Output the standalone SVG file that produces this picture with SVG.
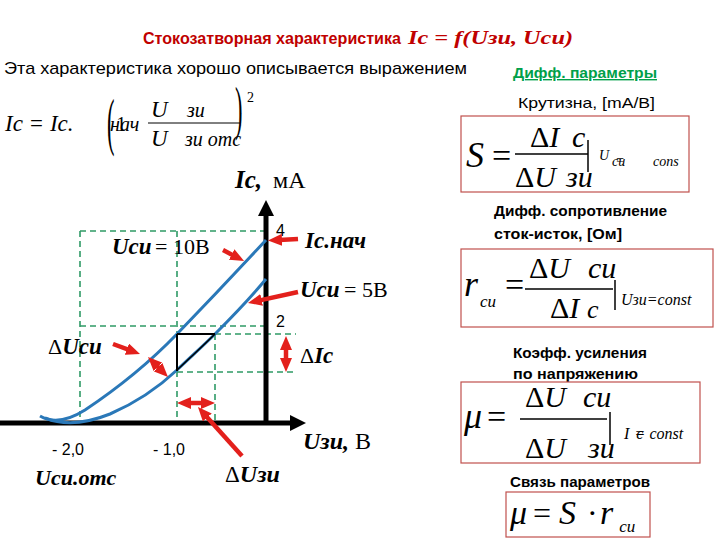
<svg xmlns="http://www.w3.org/2000/svg" width="720" height="540" viewBox="0 0 720 540">
<style>
.sans{font-family:"Liberation Sans",Arial,sans-serif;}
.serif{font-family:"Liberation Serif","Times New Roman",serif;}
.it{font-style:italic;}
.bi{font-style:italic;font-weight:bold;}
.b{font-weight:bold;}
.grid{stroke:#2f9a66;stroke-width:1.6;stroke-dasharray:6,4;fill:none;}
.curve{stroke:#2a78b8;stroke-width:3;fill:none;}
.red{stroke:#e3201c;stroke-width:4.5;fill:none;}
.box{fill:#fff;stroke:#c0504d;stroke-width:1.2;}
.rule{stroke:#000;stroke-width:1.5;}
</style>
<defs>
<marker id="ah" viewBox="0 0 14 12" markerWidth="14" markerHeight="12" refX="3" refY="6" orient="auto-start-reverse" markerUnits="userSpaceOnUse">
<path d="M0,0 L14,6 L0,12 z" fill="#e3201c"/>
</marker>
</defs>
<rect width="720" height="540" fill="#fff"/>

<g id="title">
<text x="143" y="44" class="sans b" font-size="17" fill="#c00000" textLength="258" lengthAdjust="spacingAndGlyphs">Стокозатворная характеристика</text>
<text x="408" y="44" class="serif bi" font-size="19" fill="#c00000" textLength="165" lengthAdjust="spacingAndGlyphs">Ic = f(Uзи, Ucи)</text>
</g>

<g id="intro">
<text x="4" y="74" class="sans" font-size="17" fill="#000" textLength="463" lengthAdjust="spacingAndGlyphs">Эта характеристика хорошо описывается выражением</text>
</g>

<g id="expression">
<text x="5" y="131" class="serif it" font-size="23">Ic = Ic.</text>
<text transform="translate(107,143) scale(0.75,2.1)" class="serif" font-size="30">(</text>
<text x="110" y="131" class="serif it" font-size="20">нач<tspan dx="-23" font-style="normal">1</tspan></text>
<text x="151" y="117" class="serif it" font-size="23">U</text>
<text x="187" y="117" class="serif it" font-size="20">зи</text>
<line x1="148" y1="123" x2="240" y2="123" stroke="#000" stroke-width="1"/>
<text x="151" y="146" class="serif it" font-size="23">U</text>
<text x="185" y="146" class="serif it" font-size="20">зи отс</text>
<text transform="translate(235,128) scale(0.75,2)" class="serif" font-size="30">)</text>
<text x="247" y="102" class="serif" font-size="14">2</text>
</g>

<g id="diff-header">
<text x="513" y="78" class="sans b" font-size="14" fill="#00a04a" text-decoration="underline" textLength="144" lengthAdjust="spacingAndGlyphs">Дифф. параметры</text>
</g>

<g id="steepness">
<text x="518" y="108" class="sans" font-size="15" textLength="137" lengthAdjust="spacingAndGlyphs">Крутизна, [mA/B]</text>
<rect x="461" y="116" width="228" height="76" class="box"/>
<text x="466" y="167" class="serif it" font-size="36">S</text>
<text x="492" y="167" class="serif" font-size="34">=</text>
<text x="530" y="147" class="serif" font-size="30">Δ<tspan class="it">I</tspan></text>
<text x="572" y="147" class="serif it" font-size="30">c</text>
<line x1="515" y1="154" x2="588" y2="154" class="rule"/>
<text x="515" y="187" class="serif" font-size="30">Δ<tspan class="it">U</tspan></text>
<text x="566" y="187" class="serif it" font-size="30">зи</text>
<line x1="588" y1="140" x2="588" y2="172" class="rule"/>
<text x="599" y="160" class="serif it" font-size="14">U</text>
<text x="612" y="166" class="serif it" font-size="14">си<tspan dx="-10" dy="-1">=</tspan></text>
<text x="653" y="166" class="serif it" font-size="14">cons</text>
</g>

<g id="resistance">
<text x="494" y="216" class="sans b" font-size="15" textLength="173" lengthAdjust="spacingAndGlyphs">Дифф. сопротивление</text>
<text x="494" y="239" class="sans b" font-size="15" textLength="128" lengthAdjust="spacingAndGlyphs">сток-исток, [Ом]</text>
<rect x="461" y="249" width="252" height="78" class="box"/>
<text x="464" y="296" class="serif it" font-size="36">r<tspan font-size="17" dx="2" dy="11">cи</tspan></text>
<text x="505" y="296" class="serif" font-size="34">=</text>
<text x="529" y="278" class="serif" font-size="30">Δ<tspan class="it">U</tspan></text>
<text x="588" y="278" class="serif it" font-size="30">cи</text>
<line x1="525" y1="289" x2="613" y2="289" class="rule"/>
<text x="550" y="318" class="serif" font-size="30">Δ<tspan class="it">I</tspan></text>
<text x="587" y="318" class="serif it" font-size="26">c</text>
<line x1="615" y1="280" x2="615" y2="310" class="rule"/>
<text x="621" y="305" class="serif it" font-size="16">Uзи=const</text>
</g>

<g id="gain">
<text x="513" y="358" class="sans b" font-size="15" textLength="134" lengthAdjust="spacingAndGlyphs">Коэфф. усиления</text>
<text x="513" y="379" class="sans b" font-size="15" textLength="125" lengthAdjust="spacingAndGlyphs">по напряжению</text>
<rect x="461" y="382" width="239" height="81" class="box"/>
<text x="464" y="428" class="serif it" font-size="36">μ</text>
<text x="487" y="428" class="serif" font-size="34">=</text>
<text x="525" y="407" class="serif" font-size="30">Δ<tspan class="it">U</tspan></text>
<text x="583" y="407" class="serif it" font-size="30">cи</text>
<line x1="520" y1="419" x2="607" y2="419" class="rule"/>
<text x="525" y="458" class="serif" font-size="30">Δ<tspan class="it">U</tspan></text>
<text x="588" y="458" class="serif it" font-size="30">зи</text>
<line x1="610" y1="412" x2="610" y2="445" class="rule"/>
<text x="624" y="439" class="serif it" font-size="16">I<tspan dx="7">c</tspan><tspan dx="-8" font-style="normal">=</tspan><tspan dx="5">const</tspan></text>
</g>

<g id="relation">
<text x="510" y="487" class="sans b" font-size="15" textLength="140" lengthAdjust="spacingAndGlyphs">Связь параметров</text>
<rect x="506" y="492" width="144" height="45" class="box"/>
<text x="510" y="524" class="serif it" font-size="34">μ</text>
<text x="533" y="524" class="serif" font-size="32">=</text>
<text x="559" y="524" class="serif it" font-size="34">S</text>
<text x="587" y="524" class="serif" font-size="32">·</text>
<text x="600" y="524" class="serif it" font-size="34">r<tspan font-size="17" dx="6" dy="8">cи</tspan></text>
</g>

<g id="grid">
<line x1="80" y1="231" x2="266" y2="231" class="grid"/>
<line x1="80" y1="231" x2="80" y2="423" class="grid"/>
<line x1="177" y1="231" x2="177" y2="423" class="grid"/>
<line x1="80" y1="326" x2="266" y2="326" class="grid"/>
<line x1="215" y1="334" x2="296" y2="334" class="grid"/>
<line x1="177" y1="372" x2="296" y2="372" class="grid"/>
<line x1="215" y1="334" x2="215" y2="423" class="grid"/>
</g>

<g id="axes">
<line x1="266" y1="425" x2="266" y2="214" stroke="#000" stroke-width="5"/>
<polygon points="258,216 274,216 266,200" fill="#000"/>
<line x1="0" y1="423" x2="292" y2="423" stroke="#000" stroke-width="5"/>
<polygon points="290,415 290,431 306,423" fill="#000"/>
</g>

<g id="curve-10V">
<path d="M40,416 C52,423 66,422 85,410 C115,390 150,362 177,334 C205,305 240,268 266,240" class="curve"/>
</g>
<g id="curve-5V">
<path d="M45,418 C60,424 80,426 110,414 C140,401 160,386 177,370 C195,353 205,344 215,334 C235,314 252,296 266,279" class="curve"/>
</g>

<g id="triangle">
<line x1="177" y1="334" x2="215" y2="334" stroke="#000" stroke-width="2"/>
<line x1="177" y1="334" x2="177" y2="371" stroke="#000" stroke-width="2"/>
<path d="M177,370 C195,353 205,344 215,334" fill="none" stroke="#000" stroke-width="1.5"/>
</g>

<g id="graph-labels">
<text x="235" y="188" class="serif bi" font-size="25">Ic,</text>
<text x="273" y="188" class="serif" font-size="24">мА</text>
<text x="276" y="236" class="sans" font-size="16">4</text>
<text x="305" y="248" class="serif bi" font-size="23">Ic.нач</text>
<text x="112" y="254" class="serif bi" font-size="23">Ucи</text>
<text x="155" y="254" class="serif" font-size="22">= 10В</text>
<text x="300" y="297" class="serif bi" font-size="23">Ucи</text>
<text x="344" y="297" class="serif" font-size="22">= 5В</text>
<text x="276" y="327" class="sans" font-size="16">2</text>
<text x="48" y="354" class="serif" font-size="22">Δ<tspan class="bi" font-size="23">Ucи</tspan></text>
<text x="300" y="363" class="serif" font-size="22">Δ<tspan class="bi" font-size="23">Ic</tspan></text>
<text x="52" y="455" class="sans" font-size="16">- 2,0</text>
<text x="153" y="455" class="sans" font-size="16">- 1,0</text>
<text x="303" y="449" class="serif bi" font-size="24">Uзи,</text>
<text x="355" y="449" class="serif" font-size="24">В</text>
<text x="35" y="485" class="serif bi" font-size="22">Ucи.отс</text>
<text x="225" y="482" class="serif" font-size="23">Δ<tspan class="bi" font-size="24">Uзи</tspan></text>
</g>

<g id="connectors">
<line x1="298" y1="239" x2="279" y2="240" class="red" marker-end="url(#ah)"/>
<line x1="223" y1="250" x2="234.3" y2="255.9" class="red" marker-end="url(#ah)"/>
<line x1="298" y1="292" x2="258.7" y2="300.6" class="red" marker-end="url(#ah)"/>
<line x1="113" y1="344" x2="129.7" y2="350.2" class="red" marker-end="url(#ah)"/>
<line x1="155.8" y1="364.8" x2="160.2" y2="369.2" class="red" marker-start="url(#ah)" marker-end="url(#ah)"/>
<line x1="286" y1="347" x2="286" y2="361" class="red" marker-start="url(#ah)" marker-end="url(#ah)"/>
<line x1="188" y1="403" x2="204" y2="403" class="red" marker-start="url(#ah)" marker-end="url(#ah)"/>
<line x1="242" y1="456" x2="205.3" y2="415.2" class="red" marker-end="url(#ah)"/>
</g>
</svg>
